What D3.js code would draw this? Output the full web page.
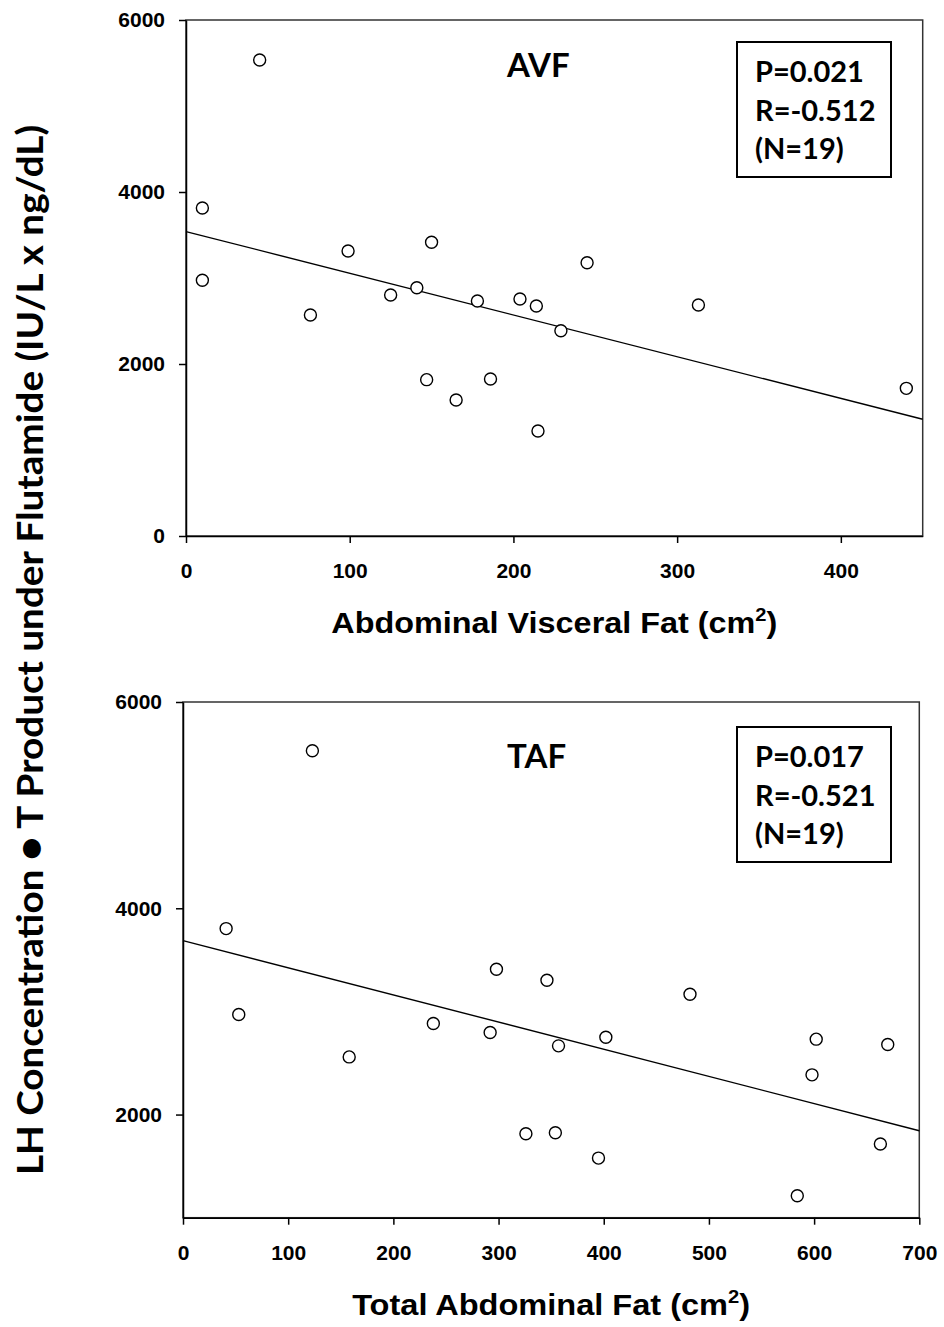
<!DOCTYPE html>
<html>
<head>
<meta charset="utf-8">
<script src="https://cdn.jsdelivr.net/npm/d3@7"></script>
<style>
  body { margin: 0; background: #fff; }
  svg { display: block; }
  .tick text { font-family: "Liberation Sans", Arial, sans-serif; font-weight: bold; font-size: 21px; fill: #000; }
  .tick line, .domain { stroke: #000; stroke-width: 1.5px; }
</style>
</head>
<body>
<div id="chart"></div>
<script>
// AVF panel: abdominal visceral fat (cm2) vs LH x T product
const avfX = [45, 10, 10, 76, 99, 125, 141, 150, 147, 165, 178, 186, 204, 214, 215, 229, 245, 313, 440];
const avfY = [5535, 3814, 2973, 2570, 3314, 2802, 2887, 3415, 1818, 1581, 2733, 1826, 2756, 2674, 1221, 2387, 3178, 2686, 1717];
const avfFit = [[0, 3540], [450, 1357]];
const avfXTicks = [0, 100, 200, 300, 400];
const avfYTicks = [0, 2000, 4000, 6000];
const avfStats = ["P=0.021", "R=-0.512", "(N=19)"];

// TAF panel: total abdominal fat (cm2)
const tafX = [123, 41, 53, 158, 238, 292, 298, 326, 346, 354, 357, 395, 402, 482, 584, 598, 602, 663, 670];
const tafY = [5527, 3803, 2970, 2559, 2883, 2796, 3409, 1814, 3302, 1823, 2666, 1578, 2750, 3167, 1213, 2385, 2731, 1714, 2679];
const tafFit = [[0, 3687], [700, 1843]];
const tafXTicks = [0, 100, 200, 300, 400, 500, 600, 700];
const tafYTicks = [2000, 4000, 6000];
const tafStats = ["P=0.017", "R=-0.521", "(N=19)"];

const width = 944;
const height = 1327;

const svg = d3.select("#chart")
    .append("svg")
    .attr("width", width)
    .attr("height", height);

function drawPanel(opt) {
    const x = d3.scaleLinear().domain(opt.xDomain).range([opt.left, opt.right]);
    const y = d3.scaleLinear().domain(opt.yDomain).range([opt.bottom, opt.top]);

    // frame (top and right edges)
    svg.append("rect")
        .attr("x", opt.left)
        .attr("y", opt.top)
        .attr("width", opt.right - opt.left)
        .attr("height", opt.bottom - opt.top)
        .attr("fill", "none")
        .attr("stroke", "#333")
        .attr("stroke-width", 1.5);

    svg.append("g")
        .attr("transform", `translate(0, ${opt.bottom})`)
        .call(d3.axisBottom(x).tickValues(opt.xTicks).tickSize(7).tickSizeOuter(0).tickPadding(20).tickFormat(d3.format("d")));

    svg.append("g")
        .attr("transform", `translate(${opt.left}, 0)`)
        .call(d3.axisLeft(y).tickValues(opt.yTicks).tickSize(7).tickSizeOuter(0).tickPadding(14).tickFormat(d3.format("d")));

    // regression line
    svg.append("path")
        .datum(opt.fit)
        .attr("d", d3.line().x(d => x(d[0])).y(d => y(d[1])))
        .attr("fill", "none")
        .attr("stroke", "#000")
        .attr("stroke-width", 1.4);

    // points
    svg.append("g")
        .selectAll("circle")
        .data(opt.xs.map((v, i) => [v, opt.ys[i]]))
        .enter()
        .append("circle")
        .attr("cx", d => x(d[0]))
        .attr("cy", d => y(d[1]))
        .attr("r", 6)
        .attr("fill", "#fff")
        .attr("stroke", "#000")
        .attr("stroke-width", 1.4);

    // panel label
    svg.append("text")
        .attr("x", opt.labelX)
        .attr("y", opt.labelY)
        .style("font-family", "Lato, 'Open Sans', sans-serif")
        .style("font-weight", "bold")
        .style("font-size", "33px")
        .text(opt.label);

    // stats box
    svg.append("rect")
        .attr("x", 737)
        .attr("y", opt.boxTop)
        .attr("width", 154)
        .attr("height", 135)
        .attr("fill", "#fff")
        .attr("stroke", "#000")
        .attr("stroke-width", 2);

    svg.append("g")
        .selectAll("text")
        .data(opt.stats)
        .enter()
        .append("text")
        .attr("x", 755)
        .attr("y", (d, i) => opt.boxTop + 40 + i * 38.5)
        .style("font-family", "Lato, 'Open Sans', sans-serif")
        .style("font-weight", "bold")
        .style("font-size", "29px")
        .text(d => d);

    // x axis title with superscript
    const t = svg.append("text")
        .attr("x", (opt.left + opt.right) / 2)
        .attr("y", opt.titleY)
        .attr("text-anchor", "middle")
        .attr("textLength", opt.titleLen)
        .attr("lengthAdjust", "spacingAndGlyphs")
        .style("font-family", "'Liberation Sans', Arial, sans-serif")
        .style("font-weight", "bold")
        .style("font-size", "29px");
    t.append("tspan").text(opt.title + " (cm");
    t.append("tspan").attr("dy", -12).style("font-size", "18px").text("2");
    t.append("tspan").attr("dy", 12).text(")");
}

drawPanel({
    left: 186, right: 922.7, top: 20, bottom: 536,
    xDomain: [0, 450], yDomain: [0, 6000],
    xTicks: avfXTicks, yTicks: avfYTicks,
    xs: avfX, ys: avfY, fit: avfFit,
    label: "AVF", labelX: 507, labelY: 77,
    stats: avfStats, boxTop: 42,
    title: "Abdominal Visceral Fat", titleY: 633, titleLen: 446
});

drawPanel({
    left: 183, right: 919.3, top: 702, bottom: 1217.7,
    xDomain: [0, 700], yDomain: [1000, 6000],
    xTicks: tafXTicks, yTicks: tafYTicks,
    xs: tafX, ys: tafY, fit: tafFit,
    label: "TAF", labelX: 507, labelY: 768,
    stats: tafStats, boxTop: 727,
    title: "Total Abdominal Fat", titleY: 1315, titleLen: 398
});

// shared y axis title
svg.append("text")
    .attr("transform", "translate(43, 650) rotate(-90)")
    .attr("text-anchor", "middle")
    .attr("textLength", 1050)
    .attr("lengthAdjust", "spacingAndGlyphs")
    .style("font-family", "Lato, 'Open Sans', sans-serif")
    .style("font-weight", "bold")
    .style("font-size", "36px")
    .text("LH  Concentration \u25CF T Product under Flutamide (IU/L x ng/dL)");
</script>
</body>
</html>
